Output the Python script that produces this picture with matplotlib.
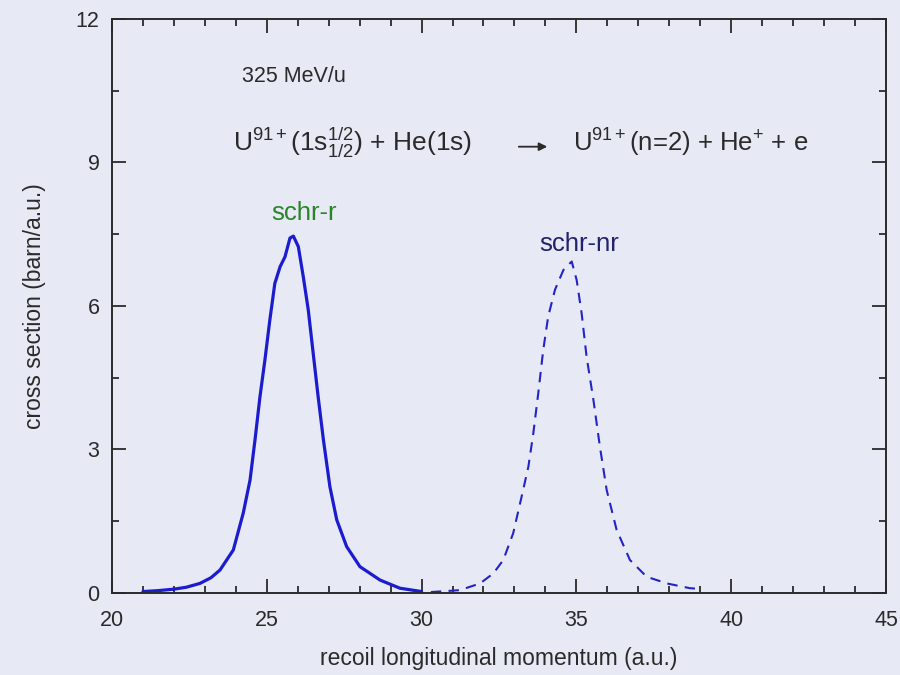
import matplotlib
matplotlib.use("Agg")
import matplotlib.pyplot as plt
from matplotlib.ticker import MultipleLocator

plt.rcParams['font.family'] = ['Liberation Sans', 'DejaVu Sans']
plt.rcParams['mathtext.fontset'] = 'custom'
plt.rcParams['mathtext.rm'] = 'Liberation Sans'
plt.rcParams['mathtext.it'] = 'Liberation Sans:italic'
plt.rcParams['mathtext.bf'] = 'Liberation Sans:bold'

# relativistic (schr-r), solid
r_x = [21.0, 21.5, 22.0, 22.4, 22.84, 23.2, 23.49, 23.92, 24.24, 24.46, 24.62, 24.78, 24.94, 25.10, 25.26,
       25.43, 25.59, 25.75, 25.86, 26.02, 26.18, 26.34, 26.50, 26.66, 26.83, 27.04, 27.26, 27.58, 28.01,
       28.66, 29.3, 30.0]
r_y = [0.03, 0.05, 0.08, 0.12, 0.20, 0.32, 0.48, 0.90, 1.67, 2.36, 3.20, 4.10, 4.87, 5.71, 6.47,
       6.82, 7.03, 7.42, 7.46, 7.24, 6.61, 5.92, 5.01, 4.10, 3.20, 2.22, 1.53, 0.97, 0.55,
       0.27, 0.10, 0.03]

# non-relativistic (schr-nr), dashed
nr_x = [30.3, 30.8, 31.24, 31.89, 32.32, 32.64, 32.96, 33.23, 33.45, 33.61, 33.77, 33.93, 34.09, 34.31,
        34.58, 34.85, 35.01, 35.17, 35.33, 35.55, 35.76, 35.98, 36.30, 36.73, 37.27, 37.92, 38.67, 38.9]
nr_y = [0.02, 0.04, 0.06, 0.20, 0.41, 0.69, 1.25, 2.01, 2.64, 3.34, 4.18, 5.08, 5.78, 6.34,
        6.75, 6.93, 6.54, 5.85, 4.94, 4.04, 3.06, 2.15, 1.32, 0.69, 0.34, 0.20, 0.10, 0.09]

bg = '#e7eaf4'
ink = '#2a2a2a'

fig = plt.figure(figsize=(9, 6.75), dpi=100, facecolor=bg)
ax = fig.add_axes([0.1244, 0.1215, 0.8600, 0.8504])
ax.set_facecolor(bg)

ax.plot(r_x, r_y, color='#1c1ccf', lw=2.3, solid_capstyle='round', solid_joinstyle='round')
ax.plot(nr_x, nr_y, color='#2323c8', lw=1.5, dashes=(5, 3.5))

ax.set_xlim(20, 45)
ax.set_ylim(0, 12)
ax.xaxis.set_major_locator(MultipleLocator(5))
ax.xaxis.set_minor_locator(MultipleLocator(1))
ax.yaxis.set_major_locator(MultipleLocator(3))
ax.yaxis.set_minor_locator(MultipleLocator(1.5))
ax.tick_params(which='both', direction='in', top=True, right=True, color=ink, width=1.3,
               labelsize=15.5, labelcolor=ink)
ax.tick_params(axis='x', which='major', pad=12)
ax.tick_params(axis='y', which='major', pad=9)
ax.tick_params(which='major', length=10)
ax.tick_params(which='minor', length=5)
for s in ax.spines.values():
    s.set_color(ink)
    s.set_linewidth(1.4)

ax.set_xlabel('recoil longitudinal momentum (a.u.)', fontsize=16.5, color=ink, labelpad=12)
ax.set_ylabel('cross section (barn/a.u.)', fontsize=16.5, color=ink, labelpad=21)

ax.text(24.2, 10.8, '325 MeV/u', fontsize=15.5, color=ink, ha='left', va='center')
ax.text(23.9, 9.4, r'U$^{\mathrm{91+}}$(1s$^{\mathrm{1/2}}_{\mathrm{1/2}}$) + He(1s)', fontsize=19,
        color=ink, ha='left', va='center')
ax.text(34.9, 9.4, r'U$^{\mathrm{91+}}$(n=2) + He$^{\mathrm{+}}$ + e', fontsize=18.5,
        color=ink, ha='left', va='center')
ax.annotate('', xy=(34.15, 9.33), xytext=(33.05, 9.33),
            arrowprops=dict(arrowstyle='-|>', color=ink, lw=1.3, mutation_scale=12))

ax.text(26.2, 7.95, 'schr-r', fontsize=18.5, color='#2a842a', ha='center', va='center')
ax.text(35.1, 7.3, 'schr-nr', fontsize=18.5, color='#22226e', ha='center', va='center')

fig.savefig('out.png', dpi=100, facecolor=bg)
